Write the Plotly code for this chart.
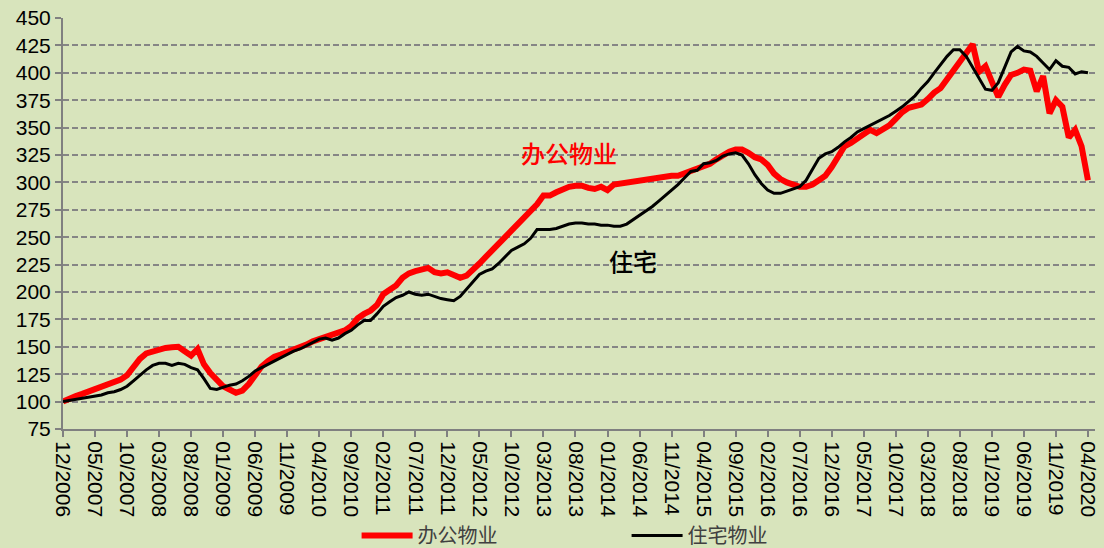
import plotly.graph_objects as go

# Month labels 12/2006 .. 04/2020 (161 months)
months = []
y, mo = 2006, 12
for _ in range(161):
    months.append(f"{mo:02d}/{y}")
    mo += 1
    if mo > 12:
        mo = 1
        y += 1

tick_labels = months[::5]

office = [
    100, 103, 105, 107, 109, 111, 113, 115, 117, 120,
    124, 132, 139, 144, 146, 148, 149, 149.5, 150, 146,
    142, 148, 134, 126, 120, 114, 111, 108, 110, 116,
    124, 132, 137, 141, 143, 145, 148, 150, 152, 155,
    157, 158, 160, 162, 165, 169, 176, 180, 183, 188,
    198, 202, 206, 213, 217, 219, 221, 222, 218, 217,
    218, 215, 213, 215, 220, 226, 232, 238, 244, 249,
    255, 261, 267, 273, 280, 288, 288, 291, 294, 296,
    297, 297, 295, 294, 296, 293, 298, 299, 299, 300,
    301, 302, 303, 305, 305, 306, 306, 308, 310, 312,
    314, 317, 321, 325, 328, 330, 330, 327, 323, 321,
    316, 308, 303, 300, 298, 296, 296, 298, 302, 306,
    314, 324, 333, 336, 340, 344, 348, 345, 348, 352,
    358, 364, 368, 370, 371, 376, 382, 386, 394, 401,
    409, 417, 426, 401, 406, 392, 378, 389, 398, 400,
    403, 402, 383, 397, 363, 375, 369, 341, 348, 333,
    302,
]

residential = [
    100, 101, 102, 103, 104, 105, 106, 108, 109, 111,
    114, 119, 124, 129, 133, 135, 135, 133, 135, 134,
    131, 129, 121, 112, 111, 113, 115, 116, 119, 123,
    128, 131, 134, 137, 140, 143, 146, 148, 151, 154,
    157, 158, 156, 158, 162, 165, 170, 174, 174, 180,
    187, 191, 195, 197, 200, 198, 197, 198, 196, 194,
    193, 192, 196, 203, 210, 216, 219, 221, 226, 232,
    238, 241, 244, 249, 257, 257, 257, 258, 260, 262,
    263, 263, 262, 262, 261, 261, 260, 260, 262, 266,
    270, 274, 278, 283, 288, 293, 298, 304, 310, 311,
    317, 318, 320, 324, 326, 327, 325, 317, 307, 299,
    293, 290, 290, 292, 294, 296, 302, 312, 322, 326,
    328, 332, 337, 341, 346, 349, 352, 355, 358, 361,
    365, 369, 374, 379, 386, 392, 400, 408, 415, 421,
    421, 415, 405, 394, 385, 384, 391, 405, 419, 424,
    420, 419, 415, 409, 403, 411, 406, 405, 399, 401,
    400,
]

series_names = ["办公物业", "住宅物业"]
label_office = "办公物业"
label_res = "住宅"

BG = "#D8E4BC"
GRID = "#858585"
FONT = "Liberation Sans, Arial, sans-serif"
CJK = "Noto Sans CJK SC, sans-serif"

fig = go.Figure()
fig.add_trace(go.Scatter(
    x=months, y=office, mode="lines", name=series_names[0],
    line=dict(color="#FF0000", width=6),
))
fig.add_trace(go.Scatter(
    x=months, y=residential, mode="lines", name=series_names[1],
    line=dict(color="#000000", width=3),
))

fig.add_annotation(x=months[79], y=327, text=label_office, showarrow=False,
                   font=dict(family=CJK, size=24, color="#FF0000", weight=500))
fig.add_annotation(x=months[89], y=229, text=label_res, showarrow=False,
                   font=dict(family=CJK, size=24, color="#000000", weight=500))

fig.update_layout(
    width=1104, height=548,
    paper_bgcolor=BG, plot_bgcolor=BG,
    margin=dict(l=63, r=9, t=18, b=119, autoexpand=False),
    font=dict(family=FONT, size=21, color="#000000"),
    showlegend=True,
    legend=dict(orientation="h", xref="container", yref="container",
                x=0.323, xanchor="left", y=0.023, yanchor="middle",
                font=dict(family=CJK, size=20, color="#404040"),
                bgcolor="rgba(0,0,0,0)", itemwidth=51,
                entrywidth=204, entrywidthmode="pixels",
                tracegroupgap=0),
)

fig.update_xaxes(
    type="category", range=[0, 161.1], automargin=False,
    tickmode="array", tickvals=tick_labels, ticktext=tick_labels,
    tickangle=90, ticks="outside", ticklen=6, tickcolor="#808080", tickwidth=2,
    showline=True, linecolor="#808080", linewidth=2,
    showgrid=False, zeroline=False,
    tickfont=dict(family=FONT, size=21, color="#000000"),
)
fig.update_yaxes(
    range=[75, 450], dtick=25, tick0=75, automargin=False,
    ticks="outside", ticklen=6, tickcolor="#808080", tickwidth=2,
    showline=True, linecolor="#808080", linewidth=2,
    showgrid=True, gridcolor=GRID, gridwidth=2, griddash="6px,3px",
    zeroline=False,
    tickfont=dict(family=FONT, size=21, color="#000000"),
)

fig.write_html(
    "out.html",
    config={"displayModeBar": False},
    post_script="document.body.style.margin='0';document.body.style.overflow='hidden';",
)
